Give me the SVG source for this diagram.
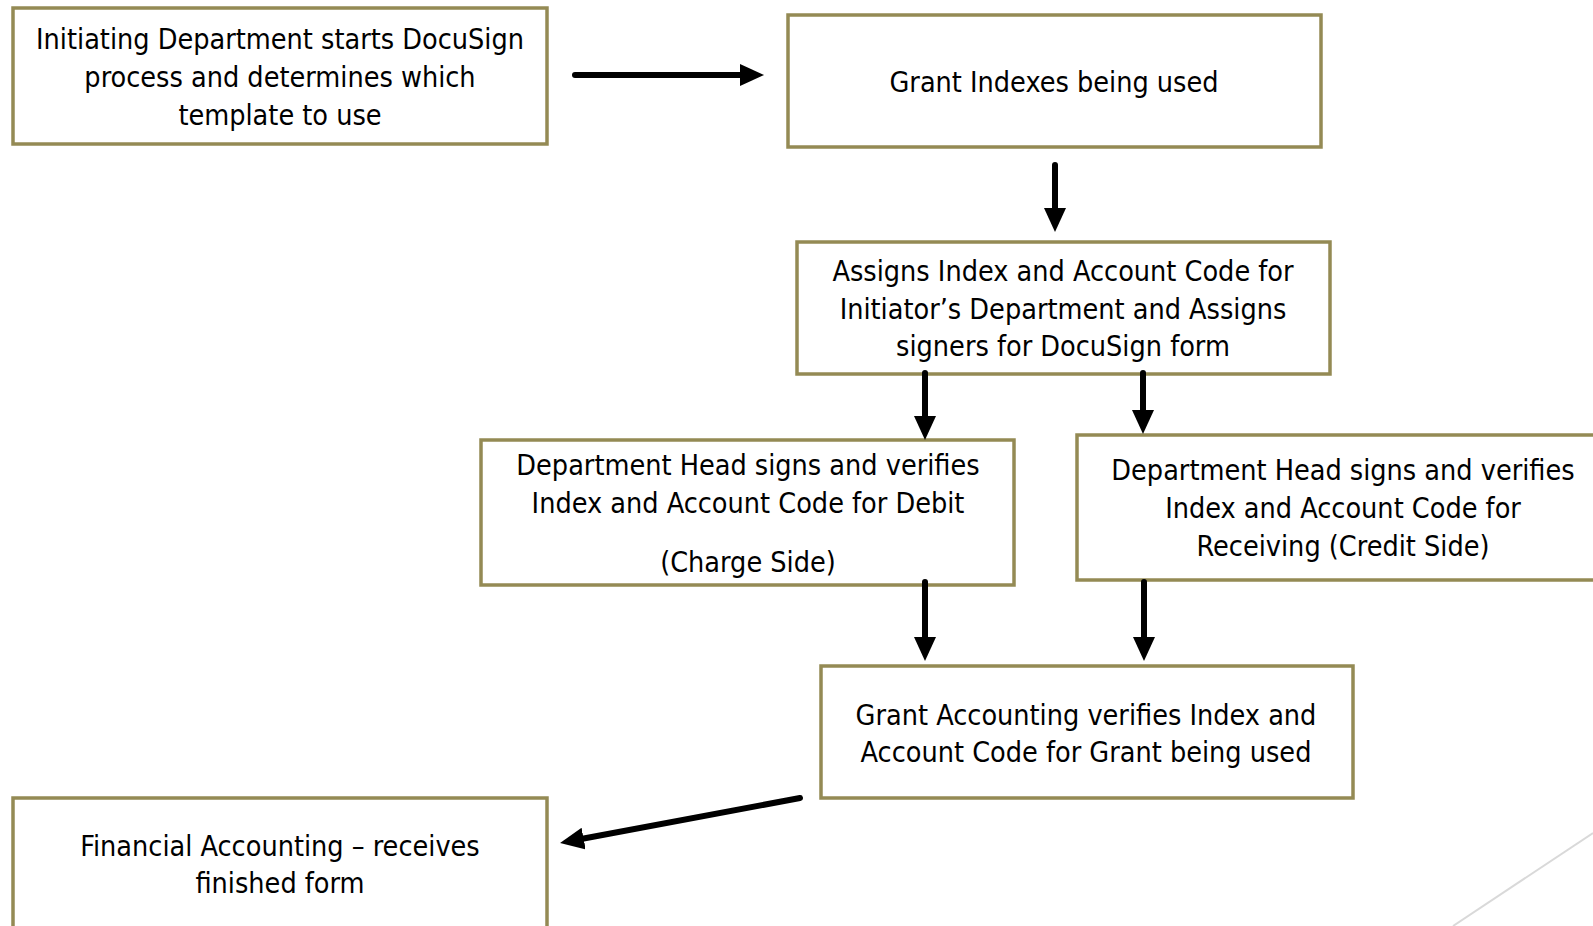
<svg xmlns="http://www.w3.org/2000/svg" width="1593" height="926" viewBox="0 0 1593 926">
<style>
.box{fill:#ffffff;stroke:#948a54;stroke-width:3.5}
.t{font-family:"DejaVu Sans Condensed","DejaVu Sans",sans-serif;font-size:28.5px;fill:#000;text-anchor:middle}
.c{stroke:#000;stroke-width:6;stroke-linecap:round;fill:none}
</style>
<defs>
<marker id="ah" viewBox="0 0 24 22" refX="4" refY="11" markerWidth="24" markerHeight="22" markerUnits="userSpaceOnUse" orient="auto">
<path d="M0,0 L24,11 L0,22 z" fill="#000"/>
</marker>
</defs>
<rect width="1593" height="926" fill="#ffffff"/>
<line x1="1453" y1="926" x2="1593" y2="833" stroke="#d9d9d9" stroke-width="2"/>
<g id="n1"><rect class="box" x="13" y="8" width="534" height="136"/>
<text class="t" x="280" y="49">Initiating Department starts DocuSign</text>
<text class="t" x="280" y="87">process and determines which</text>
<text class="t" x="280" y="125">template to use</text></g>
<g id="n2"><rect class="box" x="788" y="15" width="533" height="132"/>
<text class="t" x="1054" y="92">Grant Indexes being used</text></g>
<g id="n3"><rect class="box" x="797" y="242" width="533" height="132"/>
<text class="t" x="1063" y="281">Assigns Index and Account Code for</text>
<text class="t" x="1063" y="319">Initiator’s Department and Assigns</text>
<text class="t" x="1063" y="356">signers for DocuSign form</text></g>
<g id="n4"><rect class="box" x="481" y="440" width="533" height="145"/>
<text class="t" x="748" y="475">Department Head signs and verifies</text>
<text class="t" x="748" y="513">Index and Account Code for Debit</text>
<text class="t" x="748" y="572">(Charge Side)</text></g>
<g id="n5"><rect class="box" x="1077" y="435" width="530" height="145"/>
<text class="t" x="1343" y="480">Department Head signs and verifies</text>
<text class="t" x="1343" y="518">Index and Account Code for</text>
<text class="t" x="1343" y="556">Receiving (Credit Side)</text></g>
<g id="n6"><rect class="box" x="821" y="666" width="532" height="132"/>
<text class="t" x="1086" y="725">Grant Accounting verifies Index and</text>
<text class="t" x="1086" y="762">Account Code for Grant being used</text></g>
<g id="n7"><rect class="box" x="13" y="798" width="534" height="140"/>
<text class="t" x="280" y="856">Financial Accounting – receives</text>
<text class="t" x="280" y="893">finished form</text></g>
<g id="connectors">
<line class="c" x1="575" y1="75" x2="744" y2="75" marker-end="url(#ah)"/>
<line class="c" x1="1055" y1="165" x2="1055" y2="212" marker-end="url(#ah)"/>
<line class="c" x1="925" y1="373" x2="925" y2="420" marker-end="url(#ah)"/>
<line class="c" x1="1143" y1="373" x2="1143" y2="414" marker-end="url(#ah)"/>
<line class="c" x1="925" y1="582" x2="925" y2="641" marker-end="url(#ah)"/>
<line class="c" x1="1144" y1="582" x2="1144" y2="641" marker-end="url(#ah)"/>
<line class="c" x1="800" y1="798" x2="579.7" y2="839.3" stroke-width="7" marker-end="url(#ah)"/>
</g>
</svg>
